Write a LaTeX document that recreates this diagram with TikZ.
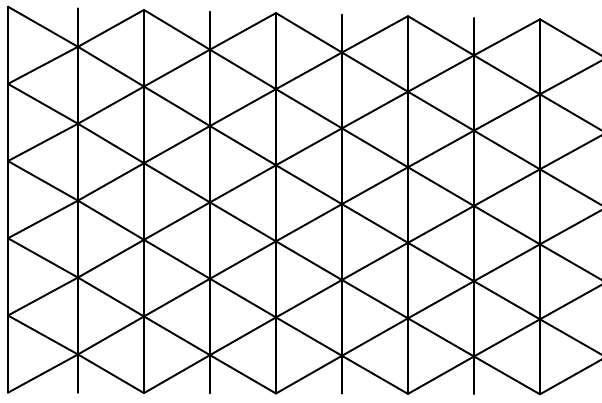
\documentclass[tikz,border=0pt]{standalone}
\begin{document}
\begin{tikzpicture}[x=1pt,y=-1pt,
  gridline/.style={line width=1.9pt,black,line cap=round,line join=round}]
\useasboundingbox (0,0) rectangle (602,402);
\fill[white] (0,0) rectangle (602,402);
\clip (0,0) rectangle (602,402);
% vertices of the (slightly distorted, as scanned) triangular grid
\foreach \i/\xx in {0/8,1/78,2/144,3/210,4/276,5/342,6/408,7/474,8/540,9/606}{
  \pgfmathsetmacro\tp{6.7+0.0237*(\xx-8)}
  \pgfmathsetmacro\bt{392.7+0.003*(\xx-8)}
  \foreach \j in {0,...,10}{
    \pgfmathsetmacro\yy{\tp+(\bt-\tp)*\j/10}
    \coordinate (v-\i-\j) at (\xx,\yy);
  }
}
% vertical lines
\foreach \i in {0,...,8}{
  \draw[gridline] (v-\i-0) -- (v-\i-10);
}
% diagonal lines
\foreach \i in {0,...,8}{
  \foreach \j in {0,...,10}{
    \pgfmathtruncatemacro\pty{mod(\i+\j,2)}
    \pgfmathtruncatemacro\ni{\i+1}
    \pgfmathtruncatemacro\dn{\j+1}
    \pgfmathtruncatemacro\up{\j-1}
    \ifnum\pty=0
      \ifnum\j<10 \draw[gridline] (v-\i-\j) -- (v-\ni-\dn); \fi
      \ifnum\j>0 \draw[gridline] (v-\i-\j) -- (v-\ni-\up); \fi
    \fi
  }
}
\end{tikzpicture}
\end{document}
